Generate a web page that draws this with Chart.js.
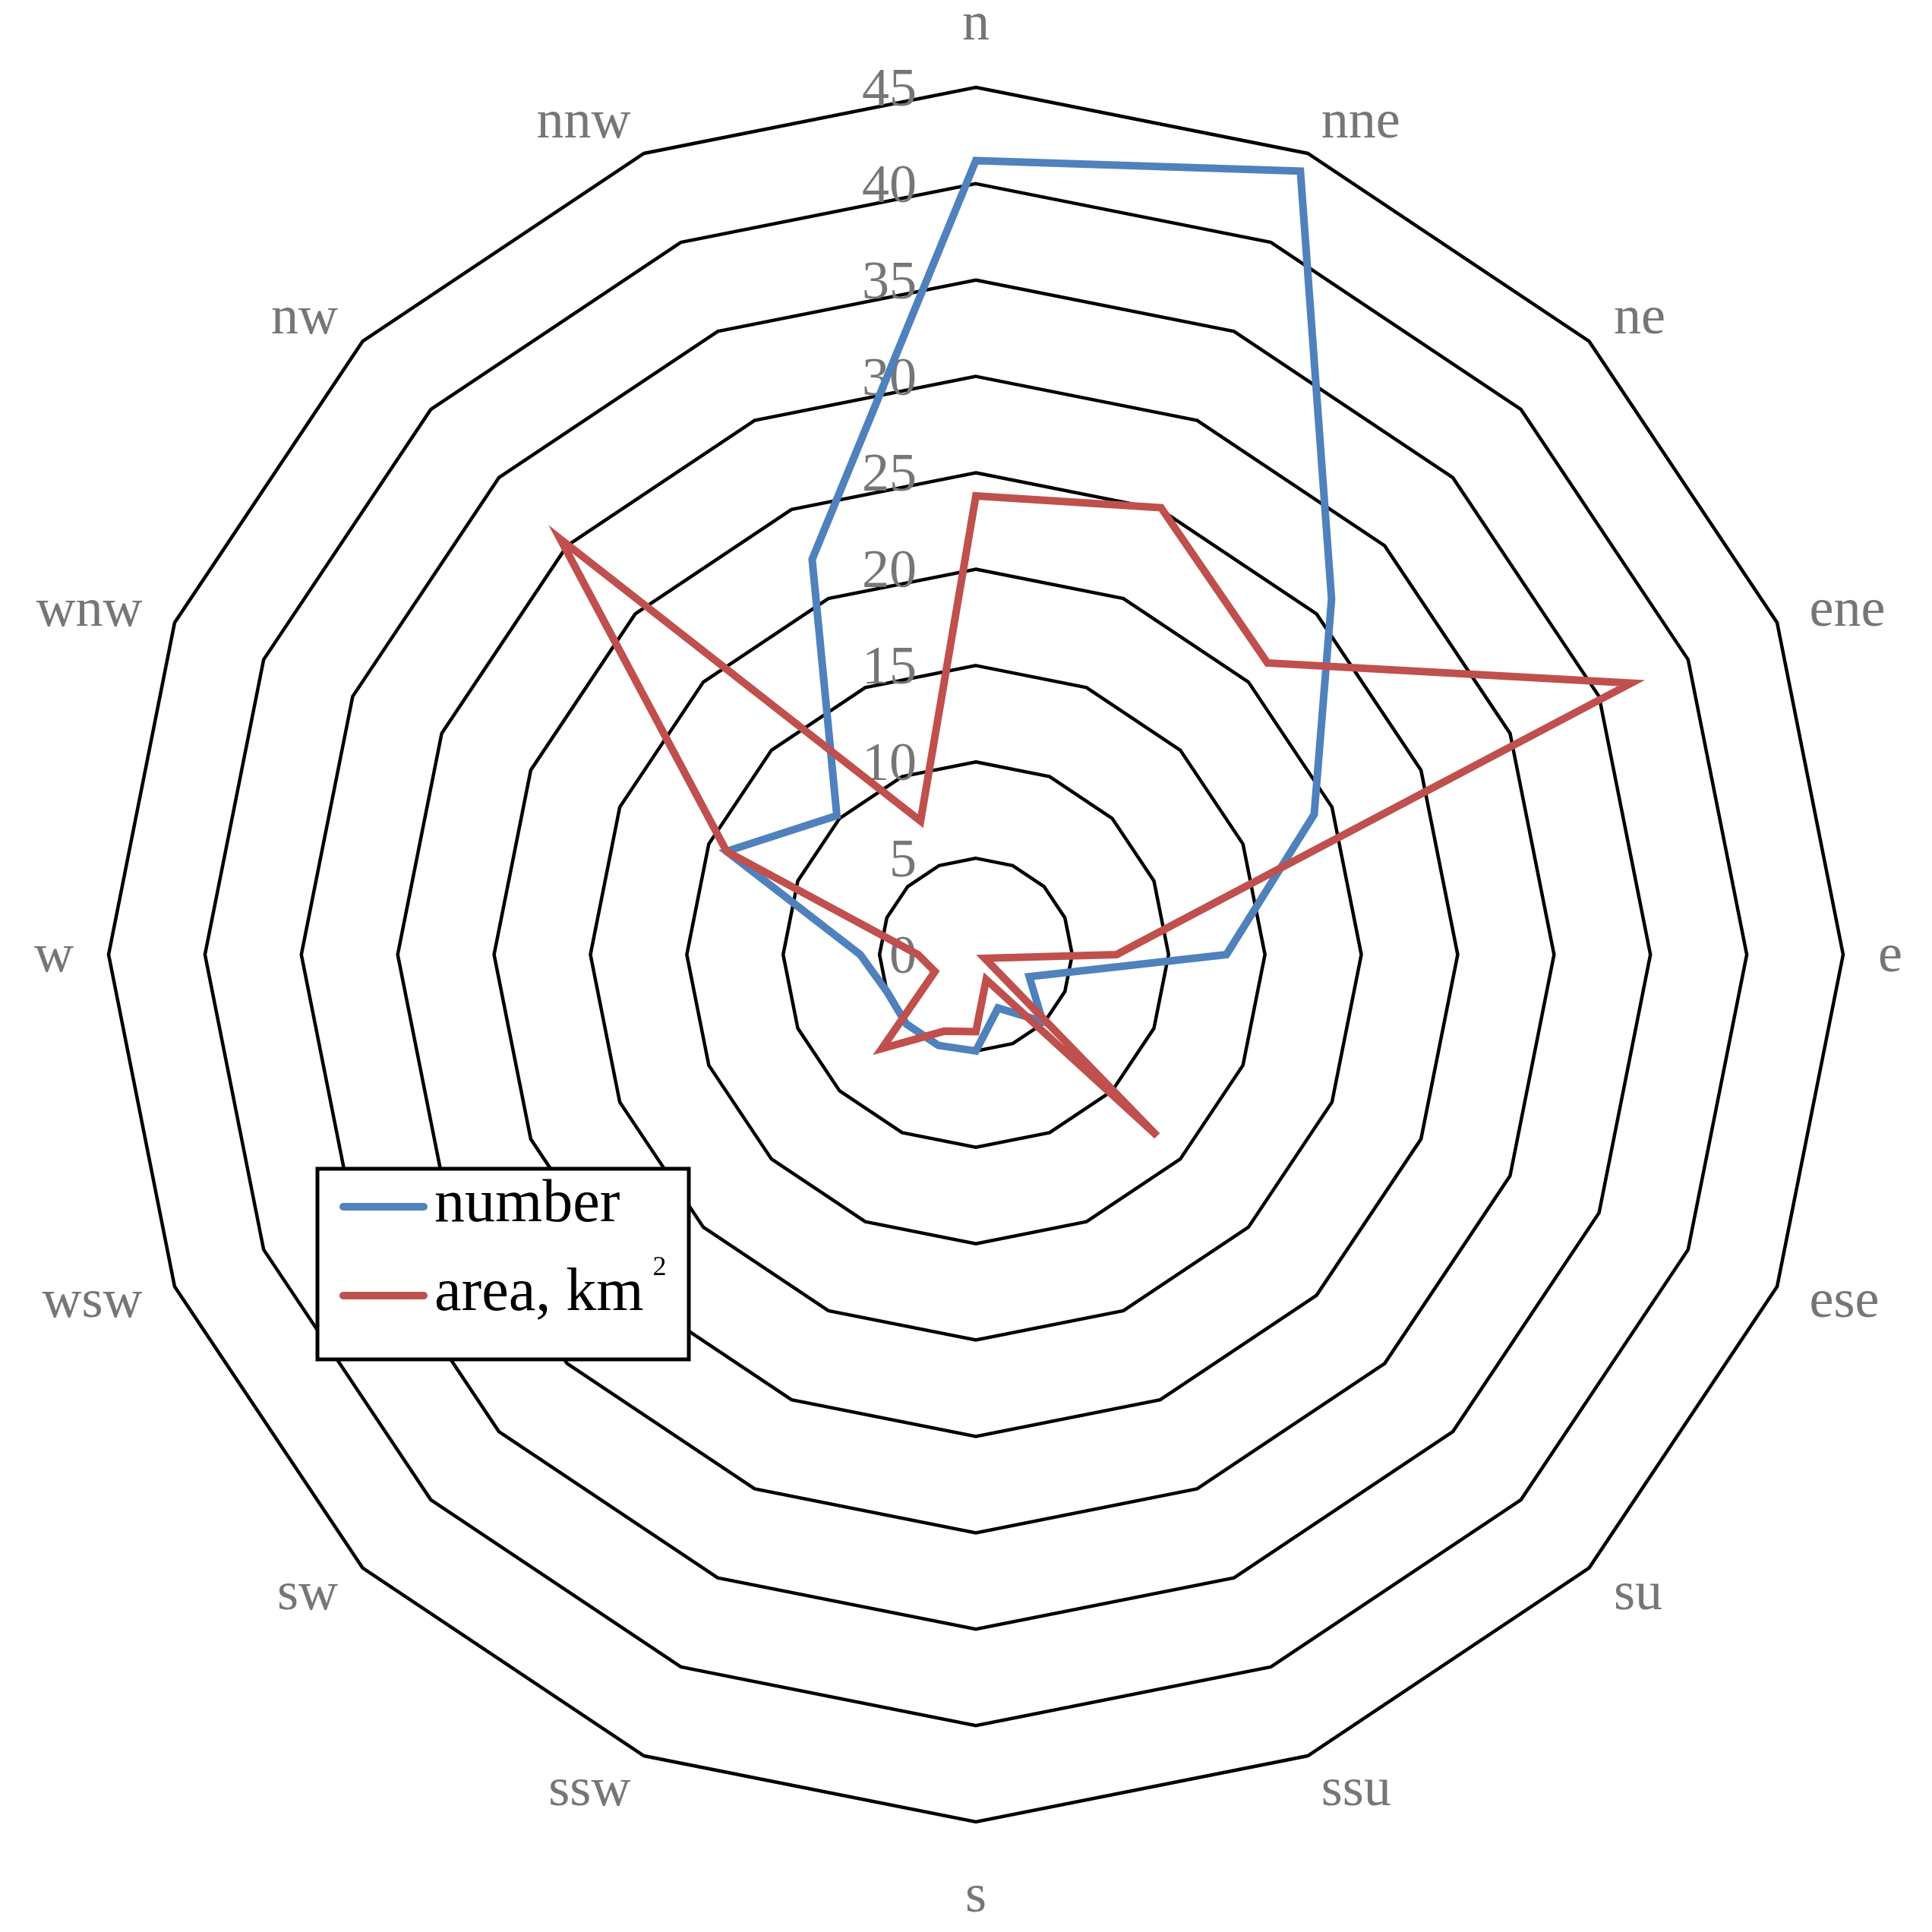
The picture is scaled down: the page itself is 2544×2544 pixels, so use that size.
<!DOCTYPE html>
<html>
<head>
<meta charset="utf-8">
<script src="https://cdn.jsdelivr.net/npm/chart.js@4.4.1/dist/chart.umd.min.js"></script>
<style>
  html, body { margin: 0; padding: 0; background: #fff; }
  #wrap { width: 2544px; height: 2544px; position: relative; }
</style>
</head>
<body>
<div id="wrap"><canvas id="rose"></canvas></div>
<script>
// directions (as labelled in the source figure)
const directions = ['n', 'nne', 'ne', 'ene', 'e', 'ese', 'su', 'ssu', 's', 'ssw', 'sw', 'wsw', 'w', 'wnw', 'nw', 'nnw'];
const numberValues = [41.2, 44.0, 26.1, 19.0, 13.0, 3.0, 4.9, 3.0, 5.0, 5.1, 5.1, 5.0, 6.0, 14.0, 10.2, 22.2];
const areaValues = [23.8, 25.1, 21.4, 36.8, 7.3, 0.5, 13.3, 1.4, 4.0, 4.3, 6.9, 2.3, 3.0, 14.0, 30.5, 7.5];
const seriesNames = ['number', 'area, km²'];
const axisMax = 45;
const axisStep = 5;

const serif = "'Liberation Serif', 'Times New Roman', serif";
const labelGray = '#767676';

// tick values + direction names, drawn next to the rings
const roseLabels = {
    id: 'roseLabels',
    beforeDatasetsDraw(chart) {
        const scale = chart.scales.r;
        const ctx = chart.ctx;
        ctx.save();
        ctx.fillStyle = labelGray;

        ctx.font = `72px ${serif}`;
        ctx.textAlign = 'right';
        ctx.textBaseline = 'middle';
        scale.ticks.forEach(t => {
            const d = scale.getDistanceFromCenterForValue(t.value);
            ctx.fillText(String(t.value), scale.xCenter - 78, scale.yCenter - d + 5);
        });

        ctx.font = `72px ${serif}`;
        ctx.textBaseline = 'alphabetic';
        chart.data.labels.forEach((lab, i) => {
            const p = scale.getPointPosition(i, scale.drawingArea + 46);
            const deg = Math.round(scale.getIndexAngle(i) * 180 / Math.PI) % 360;
            let y = p.y + 22;
            if (deg === 0) y = p.y - 17;
            else if (deg === 180) y = p.y + 72;
            ctx.textAlign = (deg === 0 || deg === 180) ? 'center' : (deg < 180 ? 'left' : 'right');
            ctx.fillText(lab, p.x, y);
        });
        ctx.restore();
    }
};

// boxed legend in the lower left
const boxLegend = {
    id: 'boxLegend',
    afterDraw(chart) {
        const ctx = chart.ctx;
        const box = { x: 418, y: 1539, w: 489, h: 251 };
        ctx.save();
        ctx.fillStyle = '#fff';
        ctx.fillRect(box.x, box.y, box.w, box.h);
        ctx.lineWidth = 5;
        ctx.strokeStyle = '#000';
        ctx.strokeRect(box.x, box.y, box.w, box.h);

        chart.data.datasets.forEach((ds, i) => {
            const ly = 1589 + i * 117;
            ctx.beginPath();
            ctx.lineCap = 'round';
            ctx.lineWidth = 10;
            ctx.strokeStyle = ds.borderColor;
            ctx.moveTo(452, ly);
            ctx.lineTo(558, ly);
            ctx.stroke();

            ctx.fillStyle = '#000';
            ctx.textAlign = 'left';
            ctx.textBaseline = 'alphabetic';
            ctx.font = `80px ${serif}`;
            let text = ds.label;
            let sup = null;
            if (text.endsWith('²')) { sup = '2'; text = text.slice(0, -1); }
            ctx.fillText(text, 572, ly + 19);
            if (sup) {
                const w = ctx.measureText(text).width;
                ctx.font = `36px ${serif}`;
                ctx.fillText(sup, 572 + w + 12, ly - 27);
            }
        });
        ctx.restore();
    }
};

new Chart(document.getElementById('rose'), {
    type: 'radar',
    data: {
        labels: directions,
        datasets: [
            {
                label: seriesNames[0],
                data: numberValues,
                borderColor: '#4F81BD',
                borderWidth: 10,
                pointRadius: 0,
                fill: false,
                tension: 0,
                order: 1,
            },
            {
                label: seriesNames[1],
                data: areaValues,
                borderColor: '#C0504D',
                borderWidth: 10,
                pointRadius: 0,
                fill: false,
                tension: 0,
                order: 0,
            }
        ]
    },
    options: {
        responsive: true,
        maintainAspectRatio: false,
        animation: false,
        layout: {
            padding: { left: 143, right: 117, top: 115, bottom: 145 }
        },
        plugins: {
            legend: { display: false },
            tooltip: { enabled: false },
        },
        scales: {
            r: {
                min: 0,
                max: axisMax,
                ticks: { stepSize: axisStep, display: false },
                angleLines: { display: false },
                grid: { color: '#000', lineWidth: 4.5 },
                pointLabels: { display: false },
            }
        }
    },
    plugins: [roseLabels, boxLegend]
});
</script>
</body>
</html>
